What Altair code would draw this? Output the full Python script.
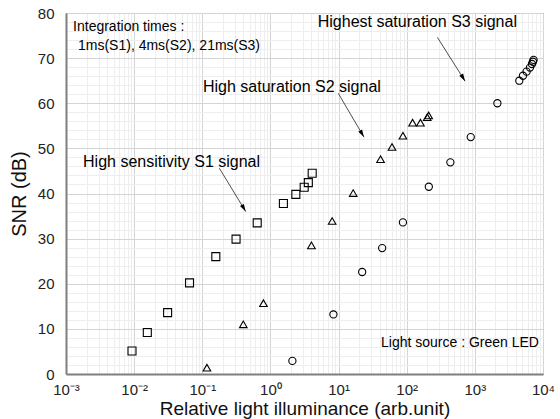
import altair as alt
import pandas as pd

FONT = "Liberation Sans"

# ---- data ----
s1_x = [0.0093, 0.0156, 0.031, 0.065, 0.158, 0.313, 0.64, 1.55, 2.36, 3.13, 3.6, 4.1]
s1_y = [5.1, 9.2, 13.6, 20.2, 26.0, 29.9, 33.5, 37.8, 39.8, 41.4, 42.4, 44.5]

s2_x = [0.117, 0.40, 0.79, 4.0, 8.05, 16.4, 41.3, 60.8, 88, 122, 159, 200, 210]
s2_y = [1.4, 11.0, 15.7, 28.5, 33.9, 40.1, 47.6, 50.3, 52.8, 55.7, 55.7, 56.9, 57.3]

s3_x = [2.1, 8.4, 22.2, 43.6, 88, 211, 437, 870, 2140, 4490, 5080, 5740, 6440, 6890, 7130, 7270]
s3_y = [2.9, 13.2, 22.6, 27.9, 33.6, 41.5, 46.9, 52.5, 60.0, 65.0, 66.1, 67.0, 67.9, 68.7, 69.2, 69.6]

series_names = ["S1", "S2", "S3"]

# annotations
label_texts = ["High sensitivity S1 signal", "High saturation S2 signal"]
label_x = [0.00178, 0.1024]
label_y = [45.9, 62.5]

s3_label = "Highest saturation S3 signal"
s3_label_x = [4150]
s3_label_y = [76.9]

arrow_x = [0.178, 9.9, 282]
arrow_y = [45.6, 62.2, 74.6]
arrow_x2 = [0.434, 23.6, 718]
arrow_y2 = [36.0, 52.5, 64.9]

info_lines = ["Integration times :", "1ms(S1), 4ms(S2), 21ms(S3)"]
info_x = [0.00127, 0.0015]
info_y = [76.0, 71.8]

source_text = "Light source : Green LED"
source_x = [8730]
source_y = [6.0]

x_decades = [-3, -2, -1, 0, 1, 2, 3, 4]
y_major = [0, 10, 20, 30, 40, 50, 60, 70, 80]

# ---- tables ----
pts = pd.DataFrame({
    "x": s1_x + s2_x + s3_x,
    "y": s1_y + s2_y + s3_y,
    "s": ["S1"] * len(s1_x) + ["S2"] * len(s2_x) + ["S3"] * len(s3_x),
})
arrows = pd.DataFrame({"x": arrow_x, "y": arrow_y, "x2": arrow_x2, "y2": arrow_y2})
labels = pd.DataFrame({"x": label_x, "y": label_y, "t": label_texts})
s3lab = pd.DataFrame({"x": s3_label_x, "y": s3_label_y, "t": [s3_label]})
info = pd.DataFrame({"x": info_x, "y": info_y, "t": info_lines})
src = pd.DataFrame({"x": source_x, "y": source_y, "t": [source_text]})

x_ticks = [m * 10.0 ** k for k in x_decades[:-1] for m in range(1, 10)] + [10.0 ** x_decades[-1]]
y_ticks = [float(v) for v in range(0, 81, 2)]

is_major_x = "abs(log(datum.value)/LN10 - round(log(datum.value)/LN10)) < 0.001"
is_major_y = "abs(datum.value/10 - round(datum.value/10)) < 0.001"
sup = "['\u207b\u00b3','\u207b\u00b2','\u207b\u00b9','\u2070','\u00b9','\u00b2','\u00b3','\u2074']"

xscale = alt.Scale(type="log", domain=[0.001, 10000], nice=False)
yscale = alt.Scale(domain=[0, 80], nice=False)

x_axis = alt.Axis(
    values=x_ticks,
    labelExpr=f"({is_major_x}) ? '10' + {sup}[round(log(datum.value)/LN10)+3] : ''",
    labelOverlap=False, labelFlush=False,
    labelFont=FONT, labelFontSize=15, labelColor="#222", labelPadding=8,
    ticks=False, domainColor="#7f7f7f", domainWidth=2,
    grid=True,
    gridColor={"condition": {"test": is_major_x, "value": "#d4d4d4"}, "value": "#eeeeee"},
    gridWidth=1,
    title="Relative light illuminance (arb.unit)",
    titleFont=FONT, titleFontSize=19, titleFontWeight="normal", titleColor="#111",
    titlePadding=2,
)
y_axis = alt.Axis(
    values=y_ticks,
    labelExpr=f"({is_major_y}) ? format(datum.value, 'd') : ''",
    labelOverlap=False, labelFlush=False,
    labelFont=FONT, labelFontSize=15, labelColor="#222", labelPadding=12,
    ticks=False, domainColor="#7f7f7f", domainWidth=2,
    grid=True,
    gridColor={"condition": {"test": is_major_y, "value": "#d4d4d4"}, "value": "#eeeeee"},
    gridWidth=1,
    title="SNR (dB)",
    titleFont=FONT, titleFontSize=20, titleFontWeight="normal", titleColor="#111",
    titlePadding=8,
)


def X(field):
    return alt.X(field, type="quantitative", scale=xscale, axis=x_axis)


def Y(field):
    return alt.Y(field, type="quantitative", scale=yscale, axis=y_axis)


points = alt.Chart(pts).mark_point(filled=False, color="black", strokeWidth=1.1, opacity=1).encode(
    x=X("x"), y=Y("y"),
    shape=alt.Shape("s:N", scale=alt.Scale(domain=series_names, range=["square", "triangle-up", "circle"]), legend=None),
    size=alt.Size("s:N", scale=alt.Scale(domain=series_names, range=[64, 52, 56]), legend=None),
)

rules = alt.Chart(arrows).mark_rule(color="#222", strokeWidth=0.8).encode(
    x=X("x"), y=Y("y"), x2="x2:Q", y2="y2:Q",
)
heads = alt.Chart(arrows).mark_point(
    shape="M0,0 L-0.55,1.9 L0.55,1.9 Z", filled=True, color="black", opacity=1,
    angle=149.6, size=64, strokeWidth=0,
).encode(x=X("x2"), y=Y("y2"))

lab = alt.Chart(labels).mark_text(align="left", baseline="alphabetic", font=FONT, fontSize=16, color="black").encode(
    x=X("x"), y=Y("y"), text="t:N")
lab3 = alt.Chart(s3lab).mark_text(align="right", baseline="alphabetic", font=FONT, fontSize=16, color="black").encode(
    x=X("x"), y=Y("y"), text="t:N")
inf = alt.Chart(info).mark_text(align="left", baseline="alphabetic", font=FONT, fontSize=14, color="black").encode(
    x=X("x"), y=Y("y"), text="t:N")
srct = alt.Chart(src).mark_text(align="right", baseline="alphabetic", font=FONT, fontSize=14, color="black").encode(
    x=X("x"), y=Y("y"), text="t:N")

chart = alt.layer(points, rules, heads, lab, lab3, inf, srct).properties(
    width=477, height=361,
    autosize=alt.AutoSizeParams(type="none"),
    padding={"left": 66, "top": 13, "right": 17, "bottom": 45},
    background="white",
).configure_view(stroke="#666", strokeWidth=1)

chart.save("out.html", embed_options={"renderer": "svg", "actions": False})
